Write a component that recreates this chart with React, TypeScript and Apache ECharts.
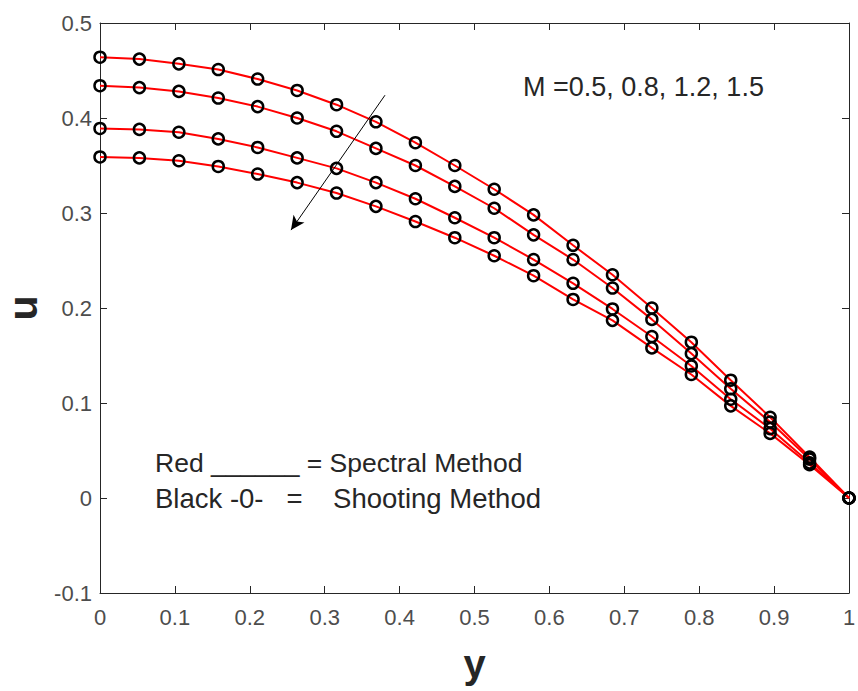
import React, { useEffect, useRef } from "react";
import * as echarts from "echarts";

// Grid points along y (abscissa)
const yPoints = [
  0, 0.0526, 0.1053, 0.1579, 0.2105, 0.2632, 0.3158, 0.3684, 0.4211, 0.4737,
  0.5263, 0.5789, 0.6316, 0.6842, 0.7368, 0.7895, 0.8421, 0.8947, 0.9474, 1,
];

// Velocity u for M = 0.5, 0.8, 1.2, 1.5
const uM05 = [0.464, 0.462, 0.457, 0.451, 0.441, 0.429, 0.414, 0.396, 0.374, 0.350, 0.325, 0.298, 0.266, 0.235, 0.200, 0.164, 0.124, 0.085, 0.043, 0];
const uM08 = [0.434, 0.432, 0.428, 0.421, 0.412, 0.400, 0.386, 0.368, 0.350, 0.328, 0.305, 0.277, 0.251, 0.221, 0.188, 0.152, 0.115, 0.080, 0.041, 0];
const uM12 = [0.389, 0.388, 0.385, 0.378, 0.369, 0.358, 0.347, 0.332, 0.315, 0.295, 0.274, 0.251, 0.226, 0.199, 0.170, 0.139, 0.104, 0.073, 0.037, 0];
const uM15 = [0.359, 0.358, 0.355, 0.349, 0.341, 0.332, 0.321, 0.307, 0.291, 0.274, 0.255, 0.234, 0.209, 0.187, 0.158, 0.130, 0.097, 0.068, 0.035, 0];

const seriesNames = ["M = 0.5", "M = 0.8", "M = 1.2", "M = 1.5"];
const seriesValues = [uM05, uM08, uM12, uM15];

// Arrow showing increasing M
const arrowStart = [0.3805, 0.424];
const arrowEnd = [0.255, 0.282];

const xTicks = { min: 0, max: 1, interval: 0.1 };
const yTicks = { min: -0.1, max: 0.5, interval: 0.1 };

const FONT = "'Liberation Sans', Arial, Helvetica, sans-serif";

export default function App() {
  const ref = useRef<HTMLDivElement>(null);

  useEffect(() => {
    if (!ref.current) return;
    const chart = echarts.init(ref.current, null, { renderer: "svg" });

    const pairs = (vals: number[]) => yPoints.map((x, i) => [x, vals[i]]);

    const lineSeries: any[] = seriesValues.map((vals, k) => ({
      name: seriesNames[k] + " (Spectral)",
      type: "line",
      data: pairs(vals),
      showSymbol: false,
      symbol: "none",
      lineStyle: { color: "#ff0000", width: 2 },
      z: 2,
      ...(k === 0
        ? {
            markLine: {
              silent: true,
              symbol: ["none", "arrow"],
              symbolSize: [10, 14],
              label: { show: false },
              lineStyle: { color: "#000000", width: 1, type: "solid" },
              data: [[{ coord: arrowStart }, { coord: arrowEnd }]],
            },
          }
        : {}),
    }));

    const scatterSeries: any[] = seriesValues.map((vals, k) => ({
      name: seriesNames[k] + " (Shooting)",
      type: "scatter",
      data: pairs(vals),
      symbol: "circle",
      symbolSize: 11,
      itemStyle: { color: "rgba(0,0,0,0)", borderColor: "#000000", borderWidth: 2.5, opacity: 1 },
      z: 3,
    }));

    const axisLineStyle = { color: "#262626", width: 1 };

    chart.setOption({
      animation: false,
      backgroundColor: "#ffffff",
      grid: { left: 100, right: 9, top: 23, bottom: 98, containLabel: false, outerBoundsMode: "none" },
      xAxis: [
        {
          type: "value",
          ...xTicks,
          position: "bottom",
          name: "y",
          nameLocation: "middle",
          nameGap: 51,
          nameTextStyle: { fontFamily: FONT, fontSize: 40, fontWeight: "bold", color: "#262626" },
          axisLine: { show: true, onZero: false, lineStyle: axisLineStyle },
          axisTick: { show: true, inside: true, length: 7, lineStyle: axisLineStyle },
          axisLabel: { fontFamily: FONT, fontSize: 22, color: "#4d4d4d", margin: 13 },
          splitLine: { show: false },
        },
        {
          type: "value",
          ...xTicks,
          position: "top",
          axisLine: { show: true, onZero: false, lineStyle: axisLineStyle },
          axisTick: { show: true, inside: true, length: 7, lineStyle: axisLineStyle },
          axisLabel: { show: false },
          splitLine: { show: false },
        },
      ],
      yAxis: [
        {
          type: "value",
          ...yTicks,
          position: "left",
          name: "u",
          nameLocation: "middle",
          nameRotate: 90,
          nameGap: 59,
          nameTextStyle: { fontFamily: FONT, fontSize: 41, lineHeight: 30, fontWeight: "bold", color: "#262626" },
          axisLine: { show: true, onZero: false, lineStyle: axisLineStyle },
          axisTick: { show: true, inside: true, length: 7, lineStyle: axisLineStyle },
          axisLabel: { fontFamily: FONT, fontSize: 22, color: "#4d4d4d", margin: 8 },
          splitLine: { show: false },
        },
        {
          type: "value",
          ...yTicks,
          position: "right",
          axisLine: { show: true, onZero: false, lineStyle: axisLineStyle },
          axisTick: { show: true, inside: true, length: 7, lineStyle: axisLineStyle },
          axisLabel: { show: false },
          splitLine: { show: false },
        },
      ],
      graphic: [
        {
          type: "text",
          left: 523,
          top: 73,
          style: { text: "M =0.5, 0.8, 1.2, 1.5", fontFamily: FONT, fontSize: 27, fill: "#262626" },
        },
        {
          type: "text",
          left: 155,
          top: 449,
          style: { text: "Red ______ = Spectral Method", fontFamily: FONT, fontSize: 26.5, fill: "#262626" },
        },
        {
          type: "text",
          left: 155,
          top: 484,
          style: { text: "Black -0-   =    Shooting Method", fontFamily: FONT, fontSize: 27.5, fill: "#262626" },
        },
      ],
      series: [...lineSeries, ...scatterSeries],
    });

    return () => chart.dispose();
  }, []);

  return (
    <div
      ref={ref}
      style={{ position: "fixed", left: 0, top: 0, width: 858, height: 691, background: "#fff" }}
    />
  );
}
